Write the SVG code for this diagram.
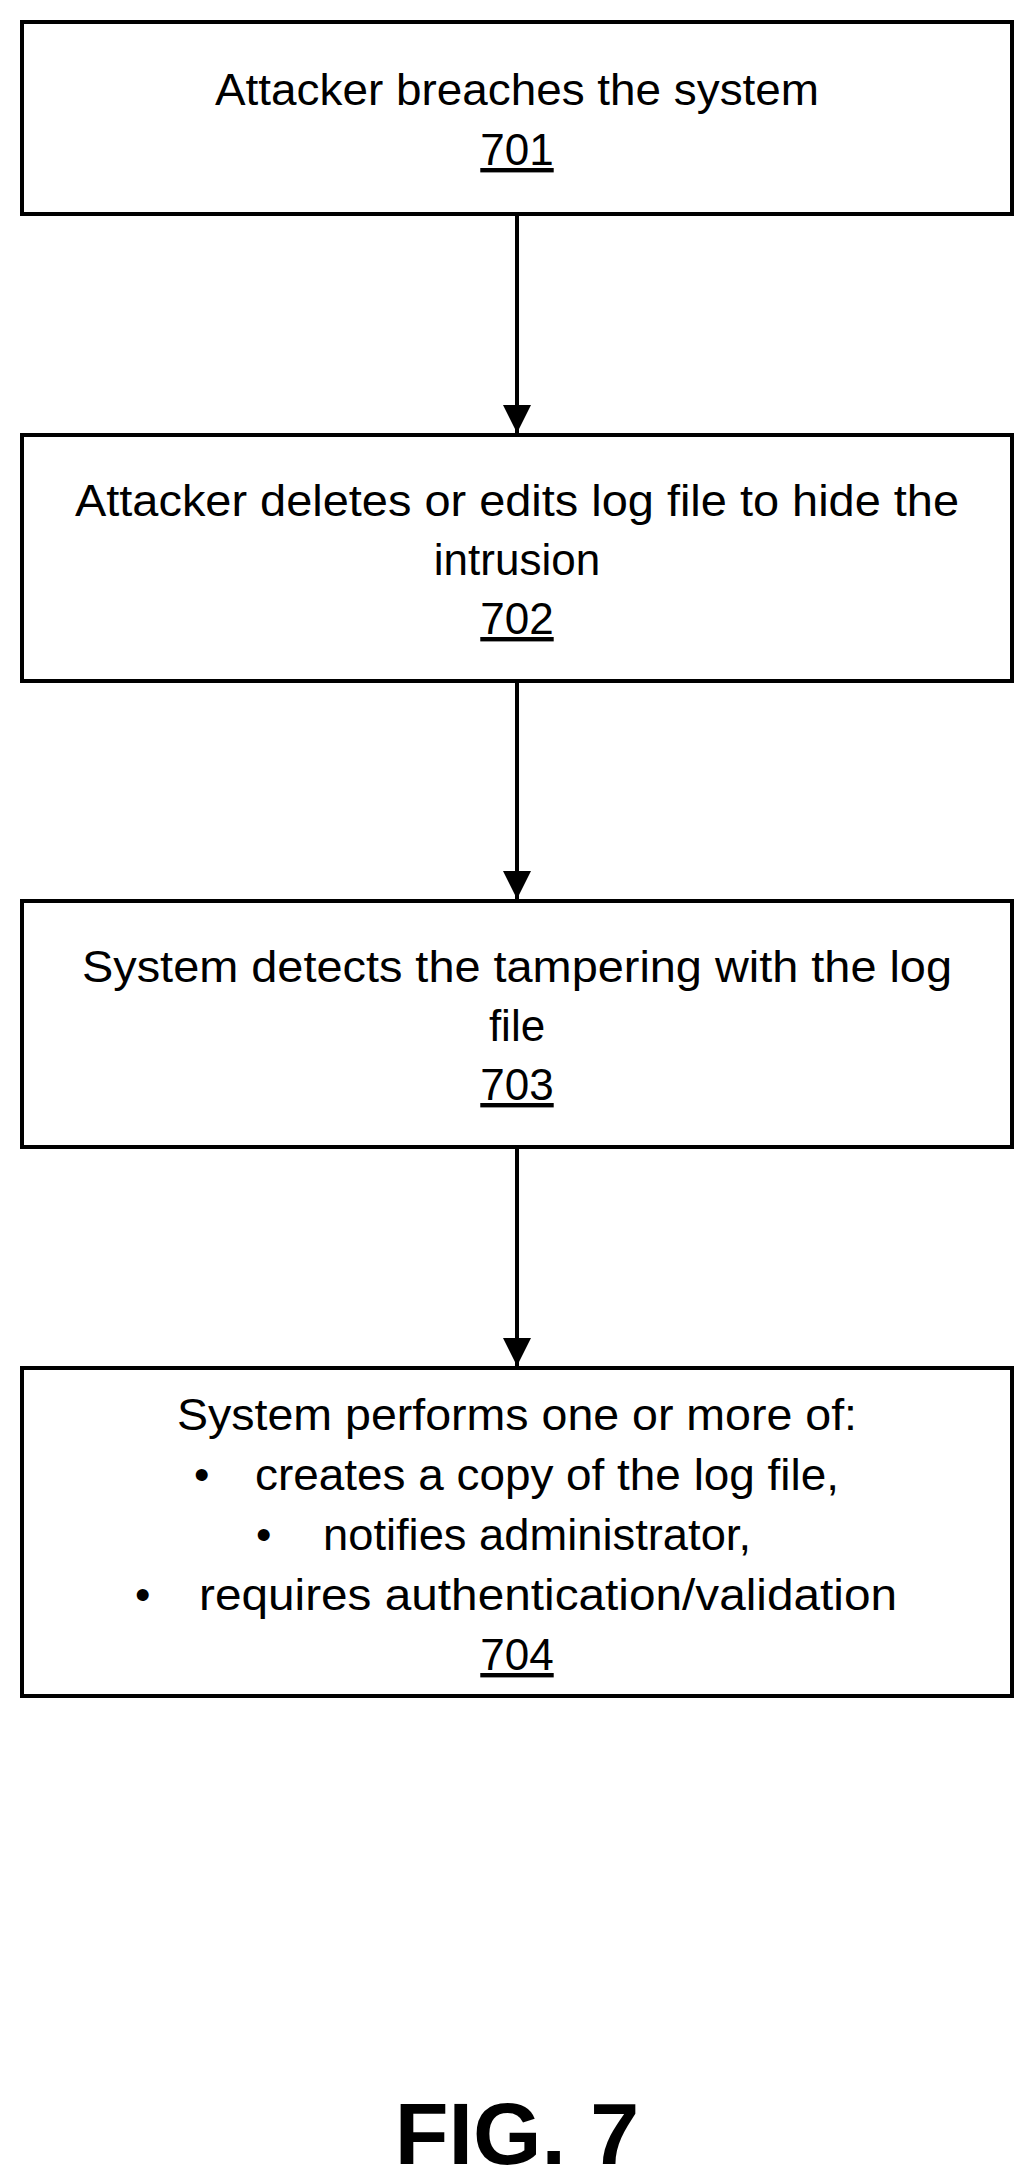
<svg xmlns="http://www.w3.org/2000/svg" width="1034" height="2183" viewBox="0 0 1034 2183">
<style>
.b{fill:#fff;stroke:#000;stroke-width:4}
.t{font-family:"Liberation Sans",Arial,sans-serif;font-size:44px;text-anchor:middle;fill:#000}
.l{font-family:"Liberation Sans",Arial,sans-serif;font-size:44px;fill:#000}
.c{stroke:#000;stroke-width:4;fill:none}
</style>
<defs><marker id="a" markerWidth="8" markerHeight="8" refX="7" refY="4" orient="auto" markerUnits="strokeWidth"><path d="M0,0.5 L7,4 L0,7.5 z" fill="#000"/></marker></defs>
<rect width="1034" height="2183" fill="#fff"/>
<g id="n701"><rect class="b" x="22" y="22" width="990" height="192"/>
<text class="t" x="517" y="105" textLength="604" lengthAdjust="spacingAndGlyphs">Attacker breaches the system</text>
<text class="t" x="517" y="165" text-decoration="underline">701</text></g>
<g id="n702"><rect class="b" x="22" y="435" width="990" height="246"/>
<text class="t" x="517" y="516" textLength="884" lengthAdjust="spacingAndGlyphs">Attacker deletes or edits log file to hide the</text>
<text class="t" x="517" y="575">intrusion</text>
<text class="t" x="517" y="634" text-decoration="underline">702</text></g>
<g id="n703"><rect class="b" x="22" y="901" width="990" height="246"/>
<text class="t" x="517" y="982" textLength="870" lengthAdjust="spacingAndGlyphs">System detects the tampering with the log</text>
<text class="t" x="517" y="1041">file</text>
<text class="t" x="517" y="1100" text-decoration="underline">703</text></g>
<g id="n704"><rect class="b" x="22" y="1368" width="990" height="328"/>
<text class="t" x="517" y="1430" textLength="680" lengthAdjust="spacingAndGlyphs">System performs one or more of:</text>
<text class="l" x="194" y="1490">•</text><text class="l" x="255" y="1490" textLength="584" lengthAdjust="spacingAndGlyphs">creates a copy of the log file,</text>
<text class="l" x="256" y="1550">•</text><text class="l" x="323" y="1550" textLength="428" lengthAdjust="spacingAndGlyphs">notifies administrator,</text>
<text class="l" x="135" y="1610">•</text><text class="l" x="199" y="1610" textLength="698" lengthAdjust="spacingAndGlyphs">requires authentication/validation</text>
<text class="t" x="517" y="1670" text-decoration="underline">704</text></g>
<g id="connectors">
<line class="c" x1="517" y1="214" x2="517" y2="433" marker-end="url(#a)"/>
<line class="c" x1="517" y1="681" x2="517" y2="899" marker-end="url(#a)"/>
<line class="c" x1="517" y1="1147" x2="517" y2="1366" marker-end="url(#a)"/>
</g>
<text x="517" y="2164" font-family="Liberation Sans,Arial,sans-serif" font-weight="bold" font-size="88" text-anchor="middle">FIG. 7</text>
</svg>
